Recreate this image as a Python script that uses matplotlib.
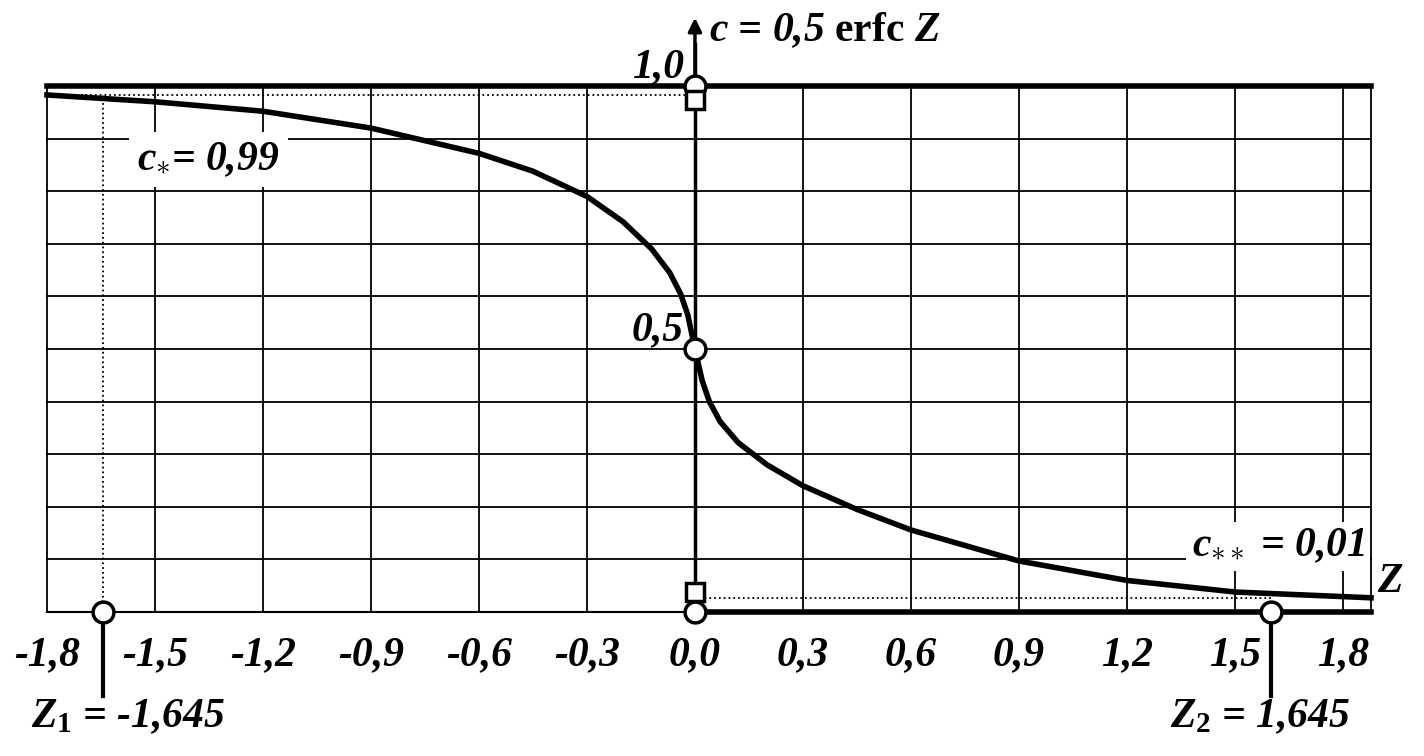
import matplotlib
matplotlib.use('Agg')
import matplotlib.pyplot as plt

plt.rcParams.update({
    'font.family': 'Liberation Serif', 'font.weight': 'bold', 'font.style': 'italic',
    'mathtext.fontset': 'custom',
    'mathtext.it': 'Liberation Serif:style=italic:weight=bold',
    'mathtext.rm': 'Liberation Serif:style=normal:weight=bold',
    'mathtext.bf': 'Liberation Serif:style=normal:weight=bold',
})

# curve c = 0.5 erfc Z
Z = [-1.8, -1.5, -1.2, -0.9, -0.6, -0.45, -0.3, -0.2, -0.12, -0.07, -0.04, -0.02, 0.0,
     0.02, 0.04, 0.07, 0.12, 0.2, 0.3, 0.45, 0.6, 0.9, 1.2, 1.5, 1.878]
C = [0.983, 0.970, 0.952, 0.920, 0.872, 0.838, 0.790, 0.742, 0.690, 0.645, 0.605, 0.565, 0.5,
     0.440, 0.400, 0.362, 0.322, 0.280, 0.240, 0.195, 0.156, 0.097, 0.060, 0.038, 0.027]
x_ticks = [-1.8, -1.5, -1.2, -0.9, -0.6, -0.3, 0.0, 0.3, 0.6, 0.9, 1.2, 1.5, 1.8]
x_labels = ['-1,8', '-1,5', '-1,2', '-0,9', '-0,6', '-0,3', '0,0', '0,3', '0,6', '0,9', '1,2', '1,5', '1,8']
y_grid = [0.1, 0.2, 0.3, 0.4, 0.5, 0.6, 0.7, 0.8, 0.9]
Z1, Z2 = -1.645, 1.6
c_hi, c_lo = 0.982, 0.027
x_min, x_max = -1.8, 1.878

fig = plt.figure(figsize=(14.24, 7.56), dpi=100)
ax = fig.add_axes([47 / 1424, 144 / 756, 1324 / 1424, 526 / 756])
ax.set_xlim(x_min, x_max)
ax.set_ylim(0, 1)
ax.axis('off')

kw = dict(color='black', clip_on=False)
for x in x_ticks[1:]:
    ax.plot([x, x], [0, 1], lw=1.3, **kw)
for x in (x_min, x_max):
    ax.plot([x, x], [0, 1], lw=1.3, **kw)
for y in y_grid:
    ax.plot([x_min, x_max], [y, y], lw=1.3, **kw)
ax.plot([x_min, 0], [0, 0], lw=1.5, **kw)
ax.plot([x_min, x_max], [1, 1], lw=4, **kw)
ax.plot([0, x_max], [0, 0], lw=4, **kw)
ax.plot([0, 0], [0, 1.08], lw=2.5, **kw)
ax.annotate('', xy=(0, 1.135), xytext=(0, 1.0), annotation_clip=False,
            arrowprops=dict(arrowstyle='-|>', color='black', lw=2.5, mutation_scale=20))

# dotted guides
ax.plot([x_min, 0], [c_hi, c_hi], ls=':', lw=1.3, **kw)
ax.plot([Z1, Z1], [0, c_hi], ls=':', lw=1.3, **kw)
ax.plot([0, Z2], [c_lo, c_lo], ls=':', lw=1.3, **kw)

ax.plot(Z, C, lw=4, color='black', clip_on=False, zorder=5, solid_joinstyle='round')

# Z1, Z2 ticks
for z in (Z1, Z2):
    ax.plot([z, z], [0, -0.16], lw=3, **kw)

for x, y in [(0, 1), (0, 0.5), (0, 0), (Z1, 0), (Z2, 0)]:
    ax.plot(x, y, 'o', ms=15, mfc='white', mec='black', mew=2.5, clip_on=False, zorder=6)
for y in (0.973, 0.038):
    ax.plot(0, y, marker='s', ms=13, mfc='white', mec='black', mew=2.5, clip_on=False, zorder=6)

fs = 30
for x, lab in zip(x_ticks, x_labels):
    ax.text(x, -0.082, lab, ha='center', va='center', fontsize=fs)
ax.text(-0.03, 1.035, '1,0', ha='right', va='center', fontsize=fs)
ax.text(-0.03, 0.5, '0,5', ha='right', va='bottom', fontsize=fs)
ax.text(0.04, 1.105, r'$c$ = 0,5 $\mathrm{erfc}$ $Z$', ha='left', va='center', fontsize=fs)
ax.text(1.93, 0.02, 'Z', ha='center', va='bottom', fontsize=fs)
ax.text(-1.55, 0.86, r'$c_{\ast}$= 0,99', ha='left', va='center', fontsize=fs,
        bbox=dict(fc='white', ec='none', pad=6))
ax.text(1.86, 0.125, r'$c_{\ast\ast}$ = 0,01', ha='right', va='center', fontsize=fs,
        bbox=dict(fc='white', ec='none', pad=4))
ax.text(Z1 + 0.07, -0.2, r'$Z_1$ = -1,645', ha='center', va='center', fontsize=fs)
ax.text(Z2 - 0.03, -0.2, r'$Z_2$ = 1,645', ha='center', va='center', fontsize=fs)

fig.savefig('out.png', dpi=100)
